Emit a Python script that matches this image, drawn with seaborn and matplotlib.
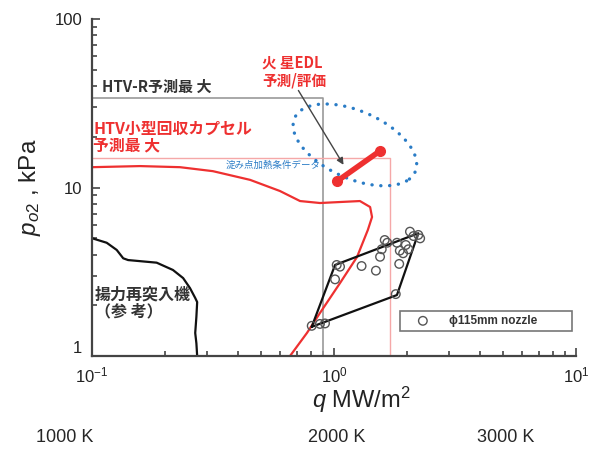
import numpy as np
import pandas as pd
import matplotlib.pyplot as plt
import seaborn as sns

sns.set_style('ticks')
plt.rcParams['font.family'] = ['Liberation Sans', 'Noto Sans CJK JP', 'DejaVu Sans']
plt.rcParams['mathtext.fontset'] = 'custom'
plt.rcParams['mathtext.rm'] = 'Liberation Sans'
plt.rcParams['mathtext.it'] = 'Liberation Sans:italic'

# ============================================
# DATOS
# ============================================

# Limites de prediccion
htv_r_max = 34.0      # kPa
htv_r_q = 0.90        # MW/m2
capsule_max = 15.0
capsule_q = 1.70

# Curva roja (capsula HTV)
red_q = [0.100, 0.158, 0.231, 0.316, 0.450, 0.598, 0.724, 0.875, 1.059, 1.28,
         1.41, 1.436, 1.38, 1.245, 1.059, 0.875, 0.773, 0.658]
red_p = [13.2, 13.4, 13.2, 12.5, 11.1, 9.53, 8.31, 8.09, 8.2, 8.31,
         7.66, 6.68, 5.6, 3.87, 2.71, 1.80, 1.37, 1.0]

# Curva negra (vehiculo de reentrada con sustentacion)
lift_q = [0.100, 0.115, 0.1265, 0.1346, 0.141, 0.185, 0.216, 0.238, 0.254,
          0.267, 0.272, 0.270, 0.267, 0.270, 0.272]
lift_p = [5.0, 4.70, 4.26, 3.80, 3.71, 3.58, 3.24, 2.90, 2.53,
          2.21, 2.09, 1.71, 1.37, 1.19, 1.0]

# Envolvente de la tobera
env_q = [0.809, 1.01, 2.23, 1.82, 0.809]
env_p = [1.49, 3.47, 5.35, 2.30, 1.49]

# Puntos de ensayo (phi 115 mm)
nozzle_q = [0.809, 0.875, 0.918, 1.026, 1.059, 1.01, 1.30, 1.49, 1.55, 1.575,
            1.62, 1.66, 1.82, 1.87, 1.93, 1.98, 2.03, 1.86, 2.06, 2.13,
            2.23, 2.27, 1.80]
nozzle_p = [1.51, 1.55, 1.56, 3.47, 3.39, 2.85, 3.42, 3.21, 3.88, 4.30,
            4.88, 4.70, 4.70, 4.22, 4.07, 4.56, 4.30, 3.52, 5.47, 5.15,
            5.23, 4.99, 2.33]

# Mars EDL
edl_q = [1.03, 1.55]
edl_p = [10.9, 16.5]

# Elipse (centro en datos, semiejes en decadas)
ell_center = (1.22, 17.9)
ell_a = 0.303   # decadas (eje mayor)
ell_b = 0.18    # decadas (eje menor)
ell_angle = -42.0  # grados en espacio log

# ============================================
# FIGURA
# ============================================

fig = plt.figure(figsize=(6.03, 4.51), dpi=100)
ax = fig.add_axes([92 / 603, 95 / 451, 484 / 603, 337 / 451])
ax.set_xscale('log')
ax.set_yscale('log')

gray = '#9a9a9a'
red = '#ee3030'
pink = '#f5a8a8'
blue = '#2a7cc6'
dark = '#333333'

# lineas de limite
ax.plot([0.1, htv_r_q, htv_r_q], [htv_r_max, htv_r_max, 1.0], color=gray, lw=1.2)
ax.plot([0.1, capsule_q, capsule_q], [capsule_max, capsule_max, 1.0], color=pink, lw=1.0)

df_red = pd.DataFrame({'q': red_q, 'p': red_p})
sns.lineplot(data=df_red, x='q', y='p', sort=False, estimator=None,
             color=red, lw=1.6, ax=ax)

df_lift = pd.DataFrame({'q': lift_q, 'p': lift_p})
sns.lineplot(data=df_lift, x='q', y='p', sort=False, estimator=None,
             color='#111111', lw=1.6, ax=ax)

df_env = pd.DataFrame({'q': env_q, 'p': env_p})
sns.lineplot(data=df_env, x='q', y='p', sort=False, estimator=None,
             color='#111111', lw=1.6, ax=ax)

df_noz = pd.DataFrame({'q': nozzle_q, 'p': nozzle_p})
sns.scatterplot(data=df_noz, x='q', y='p', marker='o', s=38,
                facecolors='none', edgecolor='#555555', linewidth=1.0,
                label='\u03d5115mm nozzle', ax=ax, zorder=4)

# elipse punteada
t = np.linspace(0, 2 * np.pi, 300)
phi = np.deg2rad(ell_angle)
lx = np.log10(ell_center[0]) + ell_a * np.cos(t) * np.cos(phi) - ell_b * np.sin(t) * np.sin(phi)
ly = np.log10(ell_center[1]) + ell_a * np.cos(t) * np.sin(phi) + ell_b * np.sin(t) * np.cos(phi)
ax.plot(10 ** lx, 10 ** ly, color=blue, lw=2.4, linestyle=(0, (0.05, 2.6)),
        dash_capstyle='round')

# EDL
ax.plot(edl_q, edl_p, color=red, lw=4, solid_capstyle='round', zorder=5)
ax.plot(edl_q, edl_p, 'o', color=red, ms=7, zorder=5)

ax.annotate('', xy=(1.11, 13.2), xytext=(0.703, 38.9),
            arrowprops=dict(arrowstyle='-|>', color='#444444', lw=1.0,
                            mutation_scale=10))

# textos
jp = ['Noto Sans CJK JP', 'DejaVu Sans']
ax.text(0.504, 49.1, '火 星EDL\n予測/評価', color=red, fontsize=10.5,
        fontweight='bold', family=jp, va='center', ha='left', linespacing=1.15)
ax.text(0.110, 39.5, 'HTV-R予測最 大', color=dark, fontsize=10.8,
        fontweight='bold', family=jp, va='center', ha='left')
ax.text(0.101, 19.9, 'HTV小型回収カプセル\n予測最 大', color=red, fontsize=11.4,
        fontweight='bold', family=jp, va='center', ha='left', linespacing=1.1)
ax.text(0.355, 13.6, '淀み点加熱条件データ', color=blue, fontsize=6.8,
        family=jp, va='center', ha='left')
ax.text(0.103, 2.06, '揚力再突入機\n（参 考）', color=dark, fontsize=11.5,
        fontweight='bold', family=jp, va='center', ha='left', linespacing=1.1)

# ejes
ax.set_xlim(0.1, 10)
ax.set_ylim(1, 100)
ax.set_yticks([1, 10, 100])
ax.set_yticklabels(['1', '10', '100'])
ax.set_xticks([0.1, 1, 10])
ax.set_xticklabels(['$10^{-1}$', '$10^{0}$', '$10^{1}$'])
ax.tick_params(which='both', direction='in', colors='#444444', labelcolor='#222222',
               labelsize=12, width=1.2)
ax.tick_params(which='major', length=6)
ax.tick_params(axis='x', which='major', pad=7)
ax.tick_params(axis='y', which='major', pad=7)
ax.tick_params(which='minor', length=3.5)
sns.despine(ax=ax)
for s in ['left', 'bottom']:
    ax.spines[s].set_color('#444444')
    ax.spines[s].set_linewidth(1.6)
# etiqueta "1" algo mas arriba, como en el original
ax.get_yticklabels()[0].set_va('bottom')

ax.set_xlabel('')
ax.set_ylabel('')
ax.text(0.557, -0.13, '$q$ MW/m$^2$', transform=ax.transAxes, fontsize=17,
        ha='center', va='center', color='#222222')
ax.text(-0.128, 0.50, '$p_{o2}$ , kPa', transform=ax.transAxes, fontsize=17.5,
        ha='center', va='center', rotation=90, color='#222222')

leg = ax.legend(loc='lower left', bbox_to_anchor=(0.636, 0.074, 0.356, 0.065),
                mode='expand', frameon=True, fancybox=False, fontsize=8.5,
                handlelength=3.2, handletextpad=0.6, borderpad=0.35,
                borderaxespad=0)
leg.get_frame().set_edgecolor('#555555')
leg.get_frame().set_linewidth(1.2)
for txt in leg.get_texts():
    txt.set_fontweight('bold')
    txt.set_color('#333333')

# temperaturas
for xpos, lab in zip([65, 337, 506], ['1000 K', '2000 K', '3000 K']):
    fig.text(xpos / 603, 1 - 438 / 451, lab, fontsize=13, ha='center', va='center')

plt.savefig('out.png', dpi=100)
plt.close()
